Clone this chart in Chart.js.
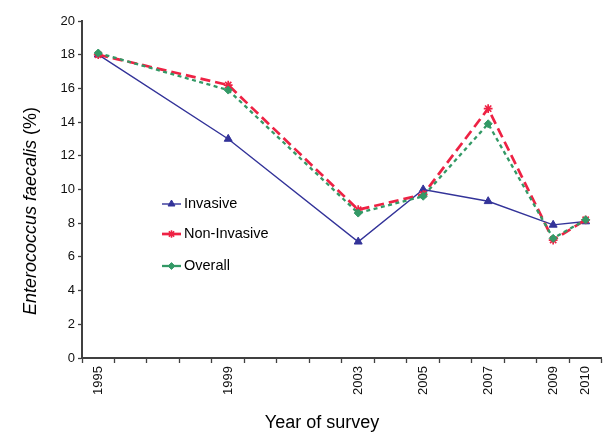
<!DOCTYPE html>
<html>
<head>
<meta charset="utf-8">
<script src="https://cdn.jsdelivr.net/npm/chart.js@4.4.1/dist/chart.umd.min.js"></script>
<style>
  html, body { margin: 0; padding: 0; background: #fff; }
  #wrap { width: 608px; height: 435px; position: relative; }
</style>
</head>
<body>
<div id="wrap"><canvas id="c" width="608" height="435"></canvas></div>
<script>
// ---- Data ----
const axisYears = ['1995','1996','1997','1998','1999','2000','2001','2002','2003','2004','2005','2006','2007','2008','2009','2010'];
const surveyYears = ['1995','1999','2003','2005','2007','2009','2010'];
const invasive    = [18.0, 13.0, 6.9, 10.0, 9.3, 7.9, 8.1];
const nonInvasive = [18.0, 16.2, 8.8, 9.7, 14.8, 7.0, 8.2];
const overall     = [18.1, 15.9, 8.6, 9.6, 13.9, 7.1, 8.2];
const seriesNames = ['Invasive', 'Non-Invasive', 'Overall'];
const yTitleItalic = 'Enterococcus faecalis';
const yTitleRest = ' (%)';
const xTitle = 'Year of survey';

const FONT = "'Liberation Sans', Arial, Helvetica, sans-serif";
const NAVY = '#333399';
const RED = '#ee2244';
const GREEN = '#339966';
const AXIS = '#404040';

function toPoints(vals) {
  return surveyYears.map((y, i) => ({ x: y, y: vals[i] }));
}

const styles = [
  { color: NAVY, width: 1.4, dash: [], point: 'triangle', radius: 4.6, fill: NAVY },
  { color: RED, width: 2.7, dash: [10, 5], point: 'star', radius: 4.4, fill: RED },
  { color: GREEN, width: 2.3, dash: [4, 3.5], point: 'rectRot', radius: 4.0, fill: GREEN }
];
const seriesVals = [invasive, nonInvasive, overall];

const datasets = seriesVals.map((vals, i) => ({
  label: seriesNames[i],
  data: toPoints(vals),
  borderColor: styles[i].color,
  backgroundColor: styles[i].fill,
  borderWidth: styles[i].width,
  borderDash: styles[i].dash,
  pointStyle: styles[i].point,
  pointRadius: styles[i].radius,
  pointBackgroundColor: styles[i].fill,
  pointBorderColor: styles[i].color,
  pointBorderWidth: i === 1 ? 1.7 : 1,
  tension: 0,
  fill: false,
  order: 3 - i
}));

const overlayPlugin = {
  id: 'overlay',
  afterDraw(chart) {
    const ctx = chart.ctx;
    ctx.save();
    // y title (mixed italic / normal)
    ctx.fillStyle = '#000';
    ctx.textBaseline = 'middle';
    ctx.translate(31, 211);
    ctx.rotate(-Math.PI / 2);
    const fItal = 'italic 18px ' + FONT;
    const fNorm = '18px ' + FONT;
    ctx.font = fItal;
    const w1 = ctx.measureText(yTitleItalic).width;
    ctx.font = fNorm;
    const w2 = ctx.measureText(yTitleRest).width;
    let sx = -(w1 + w2) / 2;
    ctx.textAlign = 'left';
    ctx.font = fItal;
    ctx.fillText(yTitleItalic, sx, 0);
    ctx.font = fNorm;
    ctx.fillText(yTitleRest, sx + w1, 0);
    ctx.restore();

    // x title
    ctx.save();
    ctx.fillStyle = '#000';
    ctx.font = '18px ' + FONT;
    ctx.textAlign = 'center';
    ctx.textBaseline = 'middle';
    ctx.fillText(xTitle, 322, 423);
    ctx.restore();

    // legend
    const ys = [204, 234, 266];
    seriesNames.forEach((name, i) => {
      const s = styles[i];
      const y = ys[i];
      ctx.save();
      ctx.strokeStyle = s.color;
      ctx.lineWidth = s.width;
      ctx.beginPath();
      ctx.moveTo(162, y);
      ctx.lineTo(181, y);
      ctx.stroke();
      ctx.fillStyle = s.fill;
      ctx.strokeStyle = s.color;
      ctx.lineWidth = i === 1 ? 1.6 : 1;
      Chart.helpers.drawPoint(ctx, { pointStyle: s.point, radius: s.radius - 0.6, rotation: 0, borderWidth: ctx.lineWidth }, 171.5, y);
      ctx.restore();
      ctx.save();
      ctx.fillStyle = '#000';
      ctx.font = '14.5px ' + FONT;
      ctx.textAlign = 'left';
      ctx.textBaseline = 'middle';
      ctx.fillText(name, 184, y);
      ctx.restore();
    });
  }
};

new Chart(document.getElementById('c'), {
  type: 'line',
  data: { labels: axisYears, datasets: datasets },
  options: {
    responsive: false,
    animation: false,
    devicePixelRatio: 1,
    layout: { padding: { left: 0, right: 1, top: 21, bottom: 0 } },
    plugins: {
      legend: { display: false },
      tooltip: { enabled: false },
      title: { display: false }
    },
    scales: {
      x: {
        type: 'category',
        offset: true,
        afterFit(scale) { scale.height = 77; },
        grid: {
          display: true,
          offset: true,
          drawOnChartArea: false,
          drawTicks: true,
          tickLength: 5,
          tickWidth: 1.3,
          tickColor: AXIS,
          color: AXIS
        },
        border: { display: true, color: AXIS, width: 2 },
        ticks: {
          autoSkip: false,
          minRotation: 90,
          maxRotation: 90,
          padding: 3,
          color: '#111',
          font: { family: FONT, size: 13 },
          callback: function (value) {
            const lab = this.getLabelForValue(value);
            return surveyYears.includes(lab) ? lab : '';
          }
        }
      },
      y: {
        min: 0,
        max: 20,
        afterFit(scale) { scale.width = 82; },
        grid: {
          display: true,
          drawOnChartArea: false,
          drawTicks: true,
          tickLength: 4,
          tickWidth: 1.3,
          tickColor: AXIS,
          color: AXIS
        },
        border: { display: true, color: AXIS, width: 2 },
        ticks: {
          stepSize: 2,
          padding: 3,
          color: '#111',
          font: { family: FONT, size: 13 }
        }
      }
    }
  },
  plugins: [overlayPlugin]
});
</script>
</body>
</html>
